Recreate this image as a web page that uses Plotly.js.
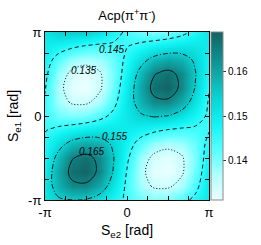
<!DOCTYPE html>
<html><head><meta charset="utf-8">
<script src="https://cdn.plot.ly/plotly-3.0.1.min.js"></script>
<style>html,body{margin:0;padding:0;background:#fff;}#chart{width:261px;height:245px;}</style>
</head><body><div id="chart"></div>
<script>
// Grid positions (in units of pi)
const se2Grid = [-1, -5/6, -4/6, -3/6, -2/6, -1/6, 0, 1/6, 2/6, 3/6, 4/6, 5/6, 1];
const se1Grid = [-1, -5/6, -4/6, -3/6, -2/6, -1/6, 0, 1/6, 2/6, 3/6, 4/6, 5/6, 1];
// Acp(pi+pi-) values, one row per Se1 value (bottom to top), one column per Se2 value (left to right)
const acp = [
 [0.1507,0.1541,0.1549,0.1545,0.1518,0.1478,0.1438,0.1410,0.1397,0.1404,0.1429,0.1466,0.1507],
 [0.1508,0.1586,0.1636,0.1639,0.1593,0.1517,0.1437,0.1375,0.1342,0.1340,0.1370,0.1429,0.1508],
 [0.1499,0.1599,0.1671,0.1686,0.1637,0.1546,0.1446,0.1366,0.1321,0.1312,0.1341,0.1406,0.1499],
 [0.1483,0.1576,0.1647,0.1670,0.1634,0.1554,0.1461,0.1382,0.1334,0.1321,0.1343,0.1399,0.1483],
 [0.1466,0.1525,0.1575,0.1597,0.1584,0.1539,0.1480,0.1423,0.1383,0.1367,0.1377,0.1411,0.1466],
 [0.1447,0.1463,0.1482,0.1497,0.1507,0.1506,0.1497,0.1481,0.1462,0.1447,0.1439,0.1439,0.1447],
 [0.1440,0.1410,0.1397,0.1404,0.1429,0.1466,0.1507,0.1541,0.1556,0.1548,0.1518,0.1478,0.1440],
 [0.1444,0.1375,0.1342,0.1340,0.1370,0.1429,0.1508,0.1586,0.1636,0.1639,0.1593,0.1517,0.1444],
 [0.1454,0.1366,0.1321,0.1312,0.1341,0.1406,0.1499,0.1599,0.1671,0.1686,0.1637,0.1546,0.1454],
 [0.1466,0.1382,0.1334,0.1321,0.1343,0.1399,0.1483,0.1576,0.1647,0.1670,0.1634,0.1554,0.1466],
 [0.1480,0.1423,0.1383,0.1367,0.1377,0.1411,0.1464,0.1525,0.1575,0.1597,0.1584,0.1539,0.1480],
 [0.1497,0.1481,0.1462,0.1447,0.1439,0.1439,0.1448,0.1463,0.1482,0.1497,0.1507,0.1506,0.1497],
 [0.1507,0.1541,0.1549,0.1545,0.1518,0.1478,0.1438,0.1410,0.1397,0.1404,0.1429,0.1466,0.1507]
];
const contourLevels = [0.135, 0.145, 0.155, 0.165];
const contourLabels = ['0.135', '0.145', '0.155', '0.165'];
const axisTickText = ['-π', '0', 'π'];
const cbTickVals = [0.14, 0.15, 0.16];
const cbTickText = ['0.14', '0.15', '0.16'];

const PI = Math.PI;
const xs = se2Grid.map(v => v * PI);
const ys = se1Grid.map(v => v * PI);

const colorscale = [
  [0, '#eefffff'.slice(0, 7)], [0.15, '#b0ffff'], [0.3, '#55ffff'], [0.45, '#12f4f4'],
  [0.6, '#08d6d6'], [0.75, '#10a8a8'], [0.9, '#0f7e7e'], [1, '#136262']
];
const dashes = ['1px,2px', '4px,3px', '5px,2px,1px,2px', 'solid'];

const traces = [{
  type: 'heatmap', x: xs, y: ys, z: acp, zsmooth: 'best',
  zmin: 0.131, zmax: 0.169, colorscale: colorscale, hoverinfo: 'skip',
  colorbar: {
    x: 1.012, xref: 'paper', xanchor: 'left', xpad: 0,
    y: 0.5, yanchor: 'middle', len: 1, lenmode: 'fraction', ypad: 0,
    thickness: 12, thicknessmode: 'pixels',
    outlinewidth: 1, outlinecolor: '#888',
    tickmode: 'array', tickvals: cbTickVals, ticktext: cbTickText,
    ticks: 'outside', ticklen: 3, tickcolor: '#333',
    tickfont: {size: 10, color: '#000'}
  }
}];
contourLevels.forEach((lv, k) => {
  traces.push({
    type: 'contour', x: xs, y: ys, z: acp, autocontour: false,
    contours: {start: lv, end: lv, size: 0.01, coloring: 'none'},
    line: {color: '#111', width: 1, dash: dashes[k], smoothing: 1},
    showscale: false, hoverinfo: 'skip'
  });
});

const labelPos = [[-1.683, 1.702], [-0.598, 2.487], [-0.486, -0.748], [-1.346, -1.346]];
const annotations = contourLabels.map((t, k) => ({
  x: labelPos[k][0], y: labelPos[k][1], xref: 'x', yref: 'y',
  text: '<i>' + t + '</i>', showarrow: false,
  font: {size: 10, color: '#000'}
}));

const axisCommon = {
  range: [-PI, PI], tickmode: 'array', tickvals: [-PI, 0, PI], ticktext: axisTickText,
  ticks: 'inside', ticklen: 4, tickcolor: '#000', tickwidth: 1,
  showline: true, linecolor: '#000', linewidth: 1, mirror: 'ticks',
  showgrid: false, zeroline: false,
  minor: {tickmode: 'linear', tick0: 0, dtick: PI / 4, ticks: 'inside', ticklen: 4, tickcolor: '#000', showgrid: false},
  tickfont: {size: 13, color: '#000'}
};

const layout = {
  width: 261, height: 245,
  margin: {l: 45, r: 48, t: 32, b: 45},
  paper_bgcolor: '#fff', plot_bgcolor: '#fff',
  font: {family: 'Liberation Sans, Arial, sans-serif', size: 12, color: '#000'},
  showlegend: false,
  title: {text: 'Acp(π<sup>+</sup>π<sup>-</sup>)', font: {size: 13}, x: 0.5, xref: 'paper', xanchor: 'center', y: 0.935, yref: 'container', yanchor: 'middle'},
  xaxis: Object.assign({}, axisCommon, {title: {text: 'S<sub>e2</sub> [rad]', font: {size: 14}, standoff: 6}}),
  yaxis: Object.assign({}, axisCommon, {title: {text: 'S<sub>e1</sub> [rad]', font: {size: 14}, standoff: 6}}),
  annotations: annotations
};

Plotly.newPlot('chart', traces, layout, {staticPlot: true, displayModeBar: false});
</script></body></html>
